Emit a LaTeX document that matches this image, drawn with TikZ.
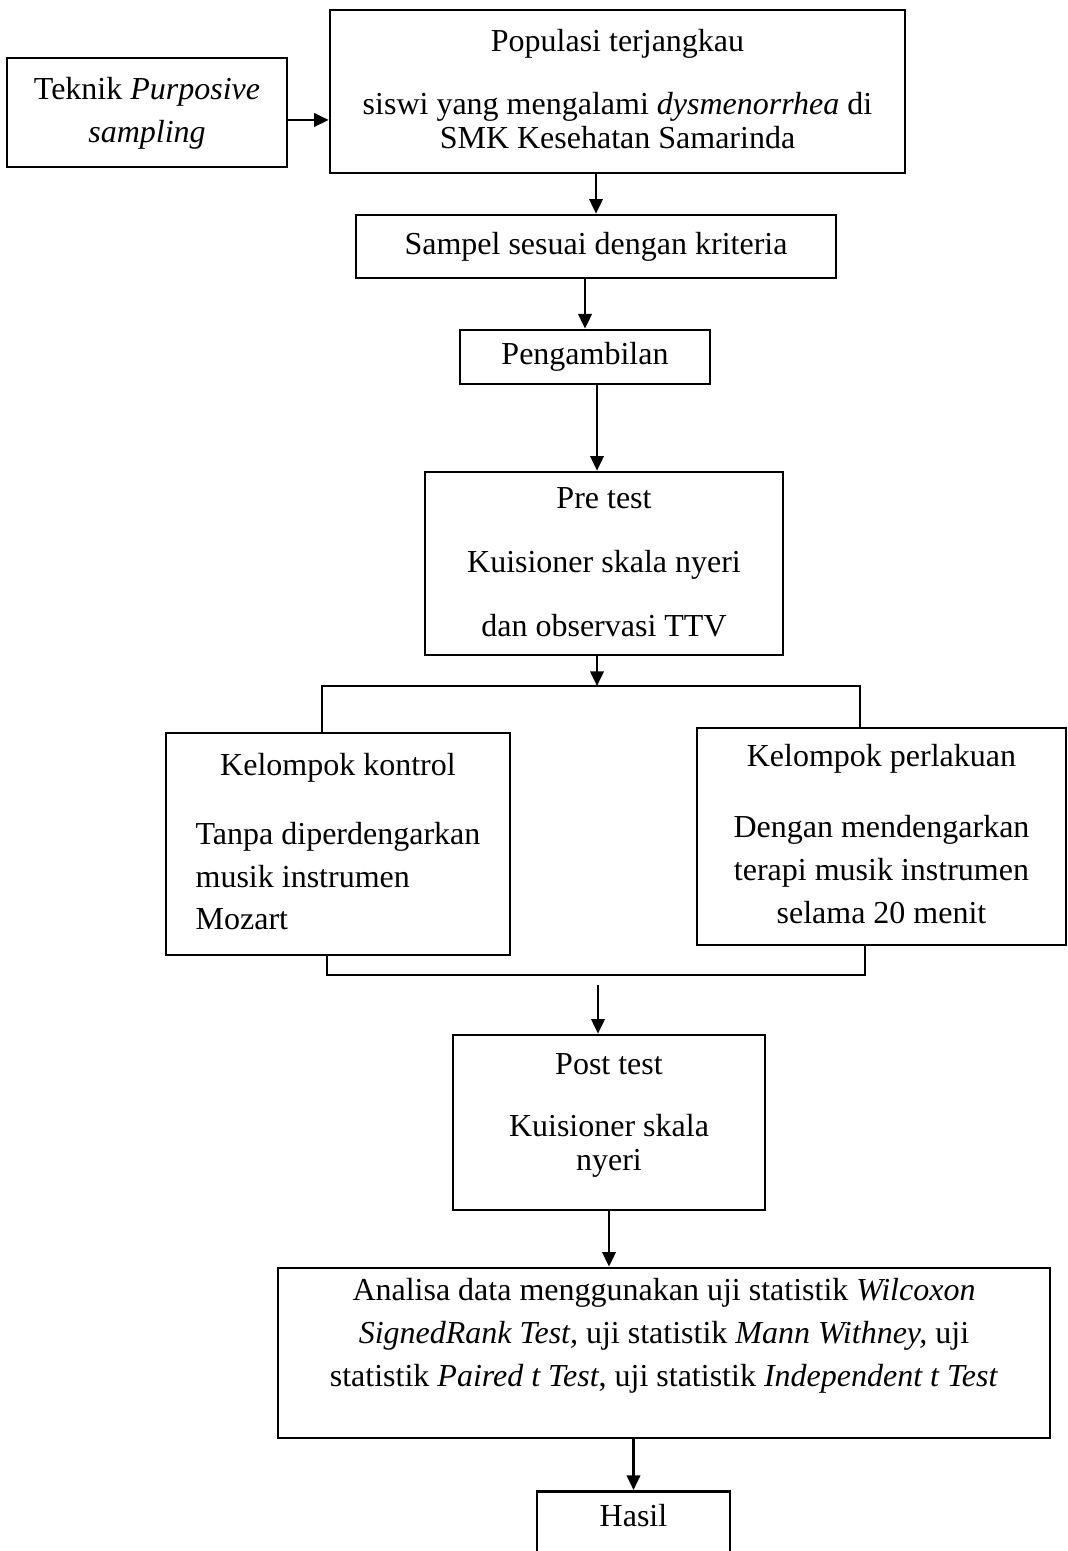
\documentclass[tikz,border=0pt]{standalone}
\usepackage{fontspec}
\setmainfont{Liberation Serif}
\usetikzlibrary{arrows.meta}

\begin{document}
\begin{tikzpicture}[x=0.375pt,y=-0.375pt,
  box/.style={draw,line width=1pt,font=\fontsize{12}{16}\selectfont},
  arr/.style={draw,line width=1pt,-{Triangle[length=5.5pt,width=5pt]}},
  link/.style={draw,line width=1pt}]
\tikzstyle{every node}+=[inner sep=0pt]
\useasboundingbox (0,0) rectangle (1068,1551);
\node[box,minimum width=105pt,minimum height=40.9pt] (teknik) at (147,112.5)
  {\begin{tabular}{@{}c@{}}Teknik \textit{Purposive}\\ \textit{sampling}\end{tabular}};
\node[box,minimum width=215.6pt,minimum height=61.1pt] (populasi) at (617.5,91.5)
  {\begin{tabular}{@{}c@{}}Populasi terjangkau\\[7.6pt] siswi yang mengalami \textit{dysmenorrhea} di\\[-2.9pt] SMK Kesehatan Samarinda\end{tabular}};
\node[box,minimum width=180pt,minimum height=23.6pt] (sampel) at (596,246.5) {Sampel sesuai dengan kriteria};
\node[box,minimum width=93.75pt,minimum height=20.25pt] (ambil) at (585,357) {Pengambilan};
\node[box,minimum width=134.25pt,minimum height=68.6pt] (pretest) at (604,563.5)
  {\begin{tabular}{@{}c@{}}Pre test\\[8pt] Kuisioner skala nyeri\\[8pt] dan observasi TTV\end{tabular}};
\node[box,minimum width=129pt,minimum height=83.25pt] (kontrol) at (338,844)
  {\begin{tabular}{@{}l@{}}\multicolumn{1}{@{}c@{}}{Kelompok kontrol}\\[9.9pt] Tanpa diperdengarkan\\ musik instrumen\\ Mozart\end{tabular}};
\node[box,minimum width=138.4pt,minimum height=81.4pt] (perlakuan) at (881.5,836.5)
  {\begin{tabular}{@{}c@{}}Kelompok perlakuan\\[10.6pt] Dengan mendengarkan\\ terapi musik instrumen\\ selama 20 menit\end{tabular}};
\node[box,minimum width=117pt,minimum height=65.6pt] (posttest) at (609,1122.5)
  {\begin{tabular}{@{}c@{}}Post test\\[7.25pt] Kuisioner skala\\[-2.9pt] nyeri\\[6.4pt]\end{tabular}};
\node[box,minimum width=289.5pt,minimum height=63.75pt] (analisa) at (664,1353)
  {\begin{tabular}{@{}c@{}}Analisa data menggunakan uji statistik \textit{Wilcoxon}\\ \textit{SignedRank Test,} uji statistik \textit{Mann Withney,} uji\\ statistik \textit{Paired t Test}, uji statistik \textit{Independent t Test}\\[13.5pt]\end{tabular}};
\node[box,anchor=north,minimum width=72.4pt,text height=13pt,text depth=40pt] (hasil) at (633.5,1490) {Hasil};
\coordinate (axis) at (597,0);
\coordinate (split) at (597,686);
\coordinate (splitL) at (322,686);
\coordinate (splitR) at (860,686);
\coordinate (joinL) at (327,975);
\coordinate (joinR) at (865,975);
\coordinate (join) at (598,985);
\draw[arr] ([yshift=-2.8pt]teknik.east) -- ([yshift=-2.8pt]teknik.east -| populasi.west);
\draw[arr] (populasi.south -| sampel.north) -- (sampel.north);
\draw[arr] (ambil.north |- sampel.south) -- (ambil.north);
\draw[arr] (ambil.south -| axis) -- (pretest.north -| axis);
\draw[arr] (pretest.south -| axis) -- (split);
\draw[link] (splitL |- kontrol.north) -- (splitL) -- (splitR) -- (splitR |- perlakuan.north);
\draw[link] (joinL |- kontrol.south) -- (joinL) -- (joinR) -- (joinR |- perlakuan.south);
\draw[arr] (join) -- (join |- posttest.north);
\draw[arr] (posttest.south) -- (posttest.south |- analisa.north);
\draw[arr] (hasil.north |- analisa.south) -- (hasil.north);
\end{tikzpicture}
\end{document}
